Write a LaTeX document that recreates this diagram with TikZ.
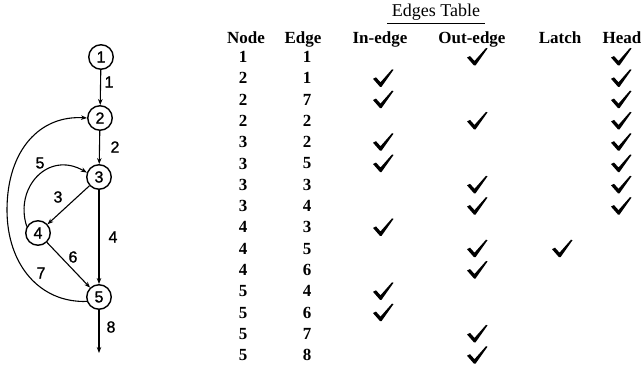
\documentclass[tikz,border=0pt]{standalone}
\usepackage{fontspec}
\setmainfont{Liberation Serif}
\newfontfamily\graphfont[FakeBold=1.2]{Liberation Sans}
\usetikzlibrary{arrows.meta}
\begin{document}
\begin{tikzpicture}[x=1pt,y=-1pt,
  vertex/.style={circle,draw,line width=1.4pt,minimum size=24.5pt,inner sep=0pt,
    font=\graphfont\fontsize{16}{16}\selectfont},
  arc/.style={line width=1.1pt,-{Stealth[length=6pt,width=4.5pt]}},
  elabel/.style={font=\graphfont\fontsize{16}{16}\selectfont,inner sep=0pt},
  colhead/.style={font=\bfseries\fontsize{17}{17}\selectfont,inner sep=0pt,anchor=base},
  cell/.style={font=\bfseries\fontsize{17}{17}\selectfont,inner sep=0pt},
  tick/.pic={\fill (-10,0.5) -- (-7,-1) -- (-2.5,4) -- (9,-9) -- (10.5,-8.5)
                   -- (-1.5,8.5) -- (-3,8.5) -- cycle;}
]
\useasboundingbox (0,0) rectangle (644,366);

% ---- flow graph ----
\node[vertex] (n1) at (101,57) {1};
\node[vertex] (n2) at (100,118) {2};
\node[vertex] (n3) at (99,177) {3};
\node[vertex] (n4) at (38,233) {4};
\node[vertex] (n5) at (99,297) {5};
\coordinate (exit) at (99,353);

\draw[arc] (n1) -- (n2);
\draw[arc] (n2) -- (n3);
\draw[arc] (n3) -- (n4);
\draw[arc] (n3) -- (n5);
\draw[arc] (n4) -- (n5);
\draw[arc] (n4.150) .. controls (14,188) and (48,150) .. (n3.160);
\draw[arc] (n5.200) .. controls (40,303) and (7,265) .. (7,210)
                    .. controls (7,150) and (40,115) .. (n2.west);
\draw[arc] (n5) -- (exit);

\node[elabel] (e1) at (109,82) {1};
\node[elabel] (e2) at (115,147) {2};
\node[elabel] (e5) at (40,163) {5};
\node[elabel] (e3) at (58,197) {3};
\node[elabel] (e4) at (113,237) {4};
\node[elabel] (e6) at (73,257) {6};
\node[elabel] (e7) at (41,273) {7};
\node[elabel] (e8) at (111,327) {8};

% ---- edges table ----
\node[font=\fontsize{18}{18}\selectfont,inner sep=0pt,anchor=base] (title) at (436,17) {Edges Table};
\draw[line width=0.8pt] (387,23.5) -- (485,23.5);

\node[colhead] (hnode) at (246,44) {Node};
\node[colhead] (hedge) at (303,44) {Edge};
\node[colhead] (hin) at (380,44) {In-edge};
\node[colhead] (hout) at (472,44) {Out-edge};
\node[colhead] (hlatch) at (560,44) {Latch};
\node[colhead] (hhead) at (622,44) {Head};

\foreach \nd/\ed/\cin/\cout/\clatch/\chead [count=\i] in {
  1/1/0/1/0/1, 2/1/1/0/0/1, 2/7/1/0/0/1, 2/2/0/1/0/1, 3/2/1/0/0/1,
  3/5/1/0/0/1, 3/3/0/1/0/1, 3/4/0/1/0/1, 4/3/1/0/0/0, 4/5/0/1/1/0,
  4/6/0/1/0/0, 5/4/1/0/0/0, 5/6/1/0/0/0, 5/7/0/1/0/0, 5/8/0/1/0/0}{
  \pgfmathsetmacro\ry{57+21.3*(\i-1)}
  \node[cell] (nd\i) at (243,\ry) {\nd};
  \node[cell] (ed\i) at (307,\ry) {\ed};
  \ifnum\cin=1 \pic at (383,\ry) {tick};\fi
  \ifnum\cout=1 \pic at (477,\ry) {tick};\fi
  \ifnum\clatch=1 \pic at (562,\ry) {tick};\fi
  \ifnum\chead=1 \pic at (621,\ry) {tick};\fi
}
\end{tikzpicture}
\end{document}
